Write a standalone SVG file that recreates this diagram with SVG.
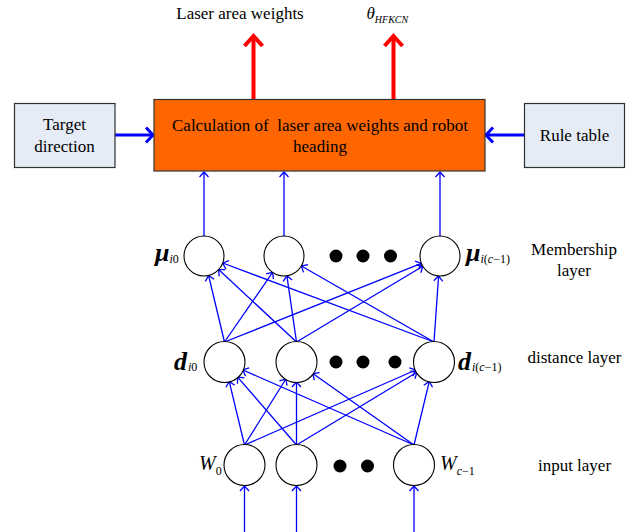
<svg xmlns="http://www.w3.org/2000/svg" width="644" height="532" viewBox="0 0 644 532">
<defs>
<marker id="ah" viewBox="-7 -7 14 14" markerWidth="14" markerHeight="14" refX="0" refY="0" orient="auto" markerUnits="userSpaceOnUse"><path d="M-5,-4.5 L0,0 L-5,4.5" fill="none" stroke="#0000ff" stroke-width="1.3"/></marker>
<marker id="ahb" viewBox="-11 -11 22 22" markerWidth="22" markerHeight="22" refX="0" refY="0" orient="auto" markerUnits="userSpaceOnUse"><path d="M-7,-7.5 L0,0 L-7,7.5" fill="none" stroke="#0000ff" stroke-width="3"/></marker>
<marker id="ahr" viewBox="-13 -13 26 26" markerWidth="26" markerHeight="26" refX="0" refY="0" orient="auto" markerUnits="userSpaceOnUse"><path d="M-10,-9 L0,0 L-10,9" fill="none" stroke="#ff0000" stroke-width="4"/></marker>
</defs>
<style>
text{font-family:"Liberation Serif","Times New Roman",serif;fill:#000}
.t{font-size:17px}
.m{text-anchor:middle}
.it{font-style:italic}
.sym{font-size:26px;font-style:italic;font-weight:bold}
.sub{font-size:12px;font-weight:normal}
.up{font-style:normal}
.box{fill:#e6ecf6;stroke:#303030;stroke-width:1.2}
.node{fill:#fff;stroke:#000;stroke-width:1.1}
.dot{fill:#000}
.e{stroke:#0000ff;stroke-width:1.3;fill:none;marker-end:url(#ah)}
.eb{stroke:#0000ff;stroke-width:3;fill:none;marker-end:url(#ahb)}
.er{stroke:#ff0000;stroke-width:4;fill:none;marker-end:url(#ahr)}
</style>

<g id="connectors">
<line class="er" x1="253.5" y1="99" x2="253.5" y2="36"/>
<line class="er" x1="393.5" y1="99" x2="393.5" y2="36"/>
<line class="eb" x1="115" y1="135" x2="153" y2="135"/>
<line class="eb" x1="524" y1="135" x2="486" y2="135"/>
<line class="e" x1="204" y1="236" x2="204" y2="172"/>
<line class="e" x1="284" y1="236" x2="284" y2="172"/>
<line class="e" x1="440" y1="236" x2="440" y2="172"/>
<line class="e" x1="224.5" y1="342" x2="208.6" y2="275.5"/>
<line class="e" x1="224.5" y1="342" x2="272.6" y2="272.4"/>
<line class="e" x1="224.5" y1="342" x2="421.4" y2="263.4"/>
<line class="e" x1="296.5" y1="342" x2="218.6" y2="269.6"/>
<line class="e" x1="296.5" y1="342" x2="286.9" y2="275.8"/>
<line class="e" x1="296.5" y1="342" x2="422.8" y2="266.3"/>
<line class="e" x1="434" y1="342" x2="222.7" y2="263"/>
<line class="e" x1="434" y1="342" x2="301.4" y2="266"/>
<line class="e" x1="434" y1="342" x2="438.6" y2="276"/>
<line class="e" x1="244.5" y1="445" x2="229.2" y2="381.4"/>
<line class="e" x1="244.5" y1="445" x2="285.9" y2="379"/>
<line class="e" x1="244.5" y1="445" x2="415.7" y2="370"/>
<line class="e" x1="296.5" y1="445" x2="237.6" y2="377.1"/>
<line class="e" x1="296.5" y1="445" x2="296.5" y2="382"/>
<line class="e" x1="296.5" y1="445" x2="416.9" y2="372.3"/>
<line class="e" x1="414" y1="445" x2="242.8" y2="370"/>
<line class="e" x1="414" y1="445" x2="312.8" y2="373.5"/>
<line class="e" x1="414" y1="445" x2="429.3" y2="381.4"/>
<line class="e" x1="244.5" y1="532" x2="244.5" y2="486"/>
<line class="e" x1="296.5" y1="532" x2="296.5" y2="486"/>
<line class="e" x1="414" y1="532" x2="414" y2="486"/>
</g>

<g id="out-labels">
<text class="t m" x="240" y="19">Laser area weights</text>
<text x="366.5" y="19" class="it" font-size="17">θ<tspan font-size="10" dy="4">HFKCN</tspan></text>
</g>

<g id="calc">
<rect x="154" y="99.5" width="331" height="71.5" fill="#ff6600" stroke="#333" stroke-width="1.2"/>
<text class="t m" x="320" y="130.5" style="white-space:pre" xml:space="preserve">Calculation of  laser area weights and robot</text>
<text class="t m" x="320" y="152">heading</text>
</g>

<g id="target">
<rect class="box" x="14.5" y="103.5" width="100.5" height="64"/>
<text class="t m" x="64.5" y="130">Target</text>
<text class="t m" x="64.5" y="151.5">direction</text>
</g>

<g id="rules">
<rect class="box" x="524.5" y="103.5" width="100" height="64"/>
<text class="t m" x="574.5" y="141">Rule table</text>
</g>

<g id="m0"><circle class="node" cx="204" cy="256" r="20"/>
<text x="155" y="261" class="sym">μ<tspan class="sub" dy="2">i</tspan><tspan class="sub up">0</tspan></text></g>
<g id="m1"><circle class="node" cx="284" cy="256" r="20"/></g>
<g id="m-dots"><circle class="dot" cx="336" cy="256" r="6.5"/><circle class="dot" cx="363" cy="256" r="6.5"/><circle class="dot" cx="390.5" cy="256" r="6.5"/></g>
<g id="m2"><circle class="node" cx="440" cy="256" r="20"/>
<text x="466" y="261" class="sym">μ<tspan class="sub" dy="2">i</tspan><tspan class="sub up">(</tspan><tspan class="sub">c</tspan><tspan class="sub up">−1)</tspan></text></g>

<g id="d0"><circle class="node" cx="224.5" cy="362" r="20.5"/>
<text x="174" y="370" class="sym">d<tspan class="sub" dx="1" dy="1">i</tspan><tspan class="sub up">0</tspan></text></g>
<g id="d1"><circle class="node" cx="296.5" cy="362" r="20.5"/></g>
<g id="d-dots"><circle class="dot" cx="336" cy="362" r="6.5"/><circle class="dot" cx="363" cy="362" r="6.5"/><circle class="dot" cx="395" cy="362" r="6.5"/></g>
<g id="d2"><circle class="node" cx="434" cy="362" r="20.5"/>
<text x="458" y="370" class="sym">d<tspan class="sub" dx="1" dy="1">i</tspan><tspan class="sub up">(</tspan><tspan class="sub">c</tspan><tspan class="sub up">−1)</tspan></text></g>

<g id="w0"><circle class="node" cx="244.5" cy="465" r="20.5"/>
<text x="199" y="470" font-size="20" class="it">W<tspan font-size="12" class="up" dy="5">0</tspan></text></g>
<g id="w1"><circle class="node" cx="296.5" cy="465" r="20.5"/></g>
<g id="w-dots"><circle class="dot" cx="340" cy="466" r="6.5"/><circle class="dot" cx="367.5" cy="466" r="6.5"/></g>
<g id="w2"><circle class="node" cx="414" cy="465" r="20.5"/>
<text x="440" y="470" font-size="20" class="it">W<tspan font-size="12" dy="5">c</tspan><tspan font-size="12" class="up">−1</tspan></text></g>

<g id="layer-labels">
<text class="t m" x="574" y="255">Membership</text>
<text class="t m" x="574" y="276">layer</text>
<text class="t m" x="574.5" y="363">distance layer</text>
<text class="t m" x="574.5" y="471">input layer</text>
</g>
</svg>
